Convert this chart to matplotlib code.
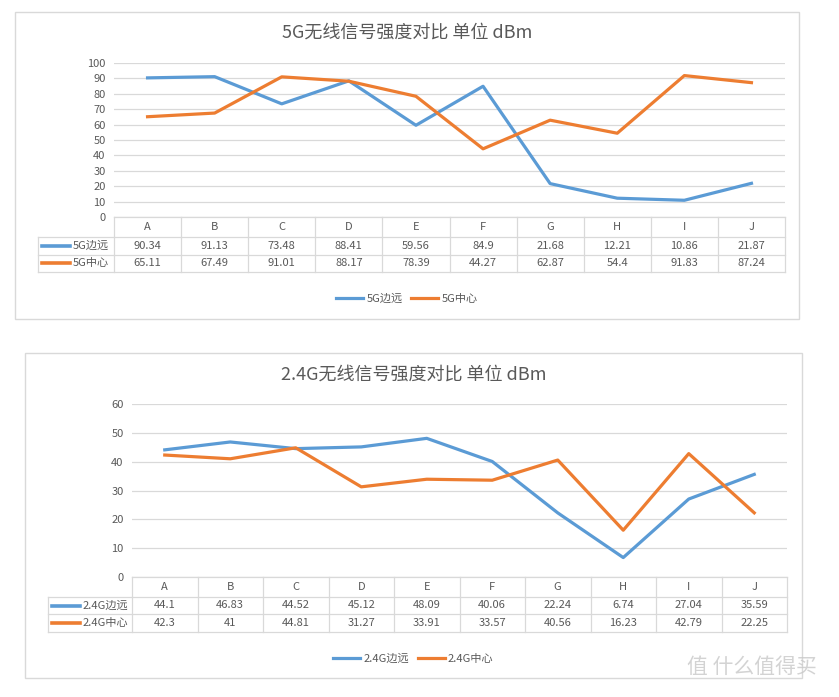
import matplotlib
matplotlib.use("Agg")
import matplotlib.pyplot as plt
from matplotlib.patches import Rectangle

plt.rcParams['font.family'] = ['Noto Sans CJK SC', 'DejaVu Sans']

# data
categories = ['A', 'B', 'C', 'D', 'E', 'F', 'G', 'H', 'I', 'J']

g5_edge = [90.34, 91.13, 73.48, 88.41, 59.56, 84.9, 21.68, 12.21, 10.86, 21.87]
g5_center = [65.11, 67.49, 91.01, 88.17, 78.39, 44.27, 62.87, 54.4, 91.83, 87.24]
g5_edge_txt = ['90.34', '91.13', '73.48', '88.41', '59.56', '84.9', '21.68', '12.21', '10.86', '21.87']
g5_center_txt = ['65.11', '67.49', '91.01', '88.17', '78.39', '44.27', '62.87', '54.4', '91.83', '87.24']

g24_edge = [44.1, 46.83, 44.52, 45.12, 48.09, 40.06, 22.24, 6.74, 27.04, 35.59]
g24_center = [42.3, 41, 44.81, 31.27, 33.91, 33.57, 40.56, 16.23, 42.79, 22.25]
g24_edge_txt = ['44.1', '46.83', '44.52', '45.12', '48.09', '40.06', '22.24', '6.74', '27.04', '35.59']
g24_center_txt = ['42.3', '41', '44.81', '31.27', '33.91', '33.57', '40.56', '16.23', '42.79', '22.25']

BLUE = '#5B9BD5'
ORANGE = '#ED7D31'
GRID = '#D9D9D9'
TXT = '#595959'

W, H = 839, 697
fig = plt.figure(figsize=(W / 100, H / 100), dpi=100)


def fbox(l, t, r, b):
    return [l / W, 1 - b / H, (r - l) / W, (b - t) / H]


def draw_chart(frame, title_y, plot, ymax, rows_y, label_left, legend_y,
               title, names, series, texts):
    # outer frame
    fl, ft, fr, fb = frame
    fig.add_artist(Rectangle((fl / W, 1 - fb / H), (fr - fl) / W, (fb - ft) / H,
                             transform=fig.transFigure, fill=False,
                             edgecolor=GRID, lw=1))
    fig.text((fl + fr) / 2 / W, 1 - title_y / H, title, ha='center', va='center',
             fontsize=13, color=TXT)

    pl, pt, pr, pb = plot
    ax = fig.add_axes(fbox(pl, pt, pr, pb))
    x = range(len(categories))
    colors = [BLUE, ORANGE]
    handles = []
    for vals, c, name in zip(series, colors, names):
        h, = ax.plot(x, vals, color=c, lw=2.3, label=name)
        handles.append(h)
    ax.set_xlim(-0.5, len(categories) - 0.5)
    ax.set_ylim(0, ymax)
    ax.set_yticks(range(0, ymax + 1, 10))
    ax.tick_params(axis='y', length=0, pad=6, labelsize=8, labelcolor=TXT)
    ax.set_xticks([])
    for s in ax.spines.values():
        s.set_visible(False)
    ax.grid(axis='y', color=GRID, lw=0.9)
    ax.set_axisbelow(True)

    # data table underneath
    u = (pr - pl) / len(categories)
    t0 = rows_y[0]
    tb = rows_y[-1]
    tax = fig.add_axes(fbox(label_left, t0, pr, tb))
    left_data = -0.5 - (pl - label_left) / u
    right_data = len(categories) - 0.5
    tax.set_xlim(left_data, right_data)
    tax.set_ylim(tb, t0)
    tax.axis('off')
    lw = 0.9
    tax.plot([-0.5, right_data], [t0, t0], color=GRID, lw=lw, clip_on=False)
    for y in rows_y[1:]:
        tax.plot([left_data, right_data], [y, y], color=GRID, lw=lw, clip_on=False)
    for i in range(len(categories) + 1):
        tax.plot([i - 0.5, i - 0.5], [t0, tb], color=GRID, lw=lw, clip_on=False)
    tax.plot([left_data, left_data], [rows_y[1], tb], color=GRID, lw=lw, clip_on=False)
    hy = (rows_y[0] + rows_y[1]) / 2
    for i, c in enumerate(categories):
        tax.text(i, hy, c, ha='center', va='center', fontsize=8, color=TXT)
    for r in range(2):
        ry = (rows_y[r + 1] + rows_y[r + 2]) / 2
        for i, t in enumerate(texts[r]):
            tax.text(i, ry, t, ha='center', va='center', fontsize=8, color=TXT)
        lx0 = left_data + 4 / u
        lx1 = left_data + 32 / u
        tax.plot([lx0, lx1], [ry, ry], color=colors[r], lw=2.6)
        tax.text(left_data + 35 / u, ry, names[r], ha='left', va='center',
                 fontsize=8, color=TXT)

    fig.legend(handles=handles, loc='center', ncol=2, frameon=False,
               bbox_to_anchor=((fl + fr) / 2 / W, 1 - legend_y / H),
               fontsize=8, labelcolor=TXT, handlelength=2.4, handletextpad=0.3,
               columnspacing=0.8)


draw_chart((15, 12, 799, 319), 33, (114, 63, 785, 217), 100,
           [217, 237, 255, 272], 38, 299,
           '5G无线信号强度对比 单位 dBm', ['5G边远', '5G中心'],
           [g5_edge, g5_center], [g5_edge_txt, g5_center_txt])

draw_chart((25, 353, 802, 678), 375, (132, 404, 787, 577), 60,
           [577, 597, 614, 632], 48, 659,
           '2.4G无线信号强度对比 单位 dBm', ['2.4G边远', '2.4G中心'],
           [g24_edge, g24_center], [g24_edge_txt, g24_center_txt])

# watermark
fig.text(752 / W, 1 - 667 / H, '值 什么值得买', ha='center', va='center',
         fontsize=15, color='#C8C8C8', alpha=0.8)

fig.savefig('out.png', dpi=100, facecolor='white')
